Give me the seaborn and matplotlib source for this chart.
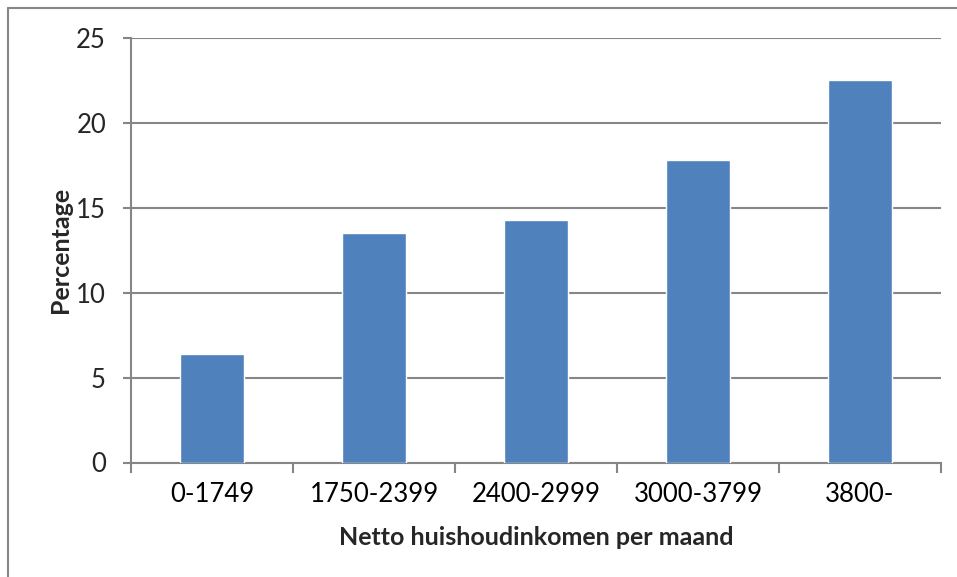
import pandas as pd
import seaborn as sns
import matplotlib.pyplot as plt
from matplotlib.lines import Line2D
from matplotlib.ticker import FixedLocator

# data
categories = ["0-1749", "1750-2399", "2400-2999", "3000-3799", "3800-"]
percentages = [6.4, 13.5, 14.3, 17.8, 22.5]

df = pd.DataFrame({"inkomen": categories, "pct": percentages})

sns.set_style("white")
plt.rcParams["font.family"] = ["Lato", "DejaVu Sans"]

fig = plt.figure(figsize=(9.57, 5.77), dpi=100)
ax = fig.add_axes([131 / 957, 1 - 462.5 / 577, 810 / 957, 424.5 / 577])

sns.barplot(data=df, x="inkomen", y="pct", color="#4F81BD", width=0.4,
            saturation=1, ax=ax, zorder=3)

ax.set_ylim(0, 25)
ax.set_xlim(-0.5, len(categories) - 0.5)
ax.set_yticks(range(0, 26, 5))
ax.yaxis.grid(True, color="#868686", linewidth=1.5, zorder=0)
ax.set_axisbelow(True)

for side in ["top", "right"]:
    ax.spines[side].set_visible(False)
for side in ["left", "bottom"]:
    ax.spines[side].set_color("#868686")
    ax.spines[side].set_linewidth(1.5)

# ticks at category boundaries, labels centred under bars
ax.xaxis.set_minor_locator(FixedLocator([i - 0.5 for i in range(len(categories) + 1)]))
ax.tick_params(axis="x", which="major", length=0, pad=14, labelsize=18.5, colors="black")
ax.tick_params(axis="x", which="minor", length=7, width=1.5, color="#868686", bottom=True)
ax.tick_params(axis="y", which="major", length=6, width=1.5, color="#868686",
               pad=12, labelsize=18.5, left=True)

ax.set_xlabel("Netto huishoudinkomen per maand", fontsize=18, fontweight="bold", labelpad=14)
ax.set_ylabel("Percentage", fontsize=18, fontweight="bold", labelpad=3)

# outer frame of the chart area (cropped at right and bottom)
fig.add_artist(Line2D([8 / 957, 8 / 957], [0, 1 - 8 / 577], color="#868686", linewidth=1.5))
fig.add_artist(Line2D([8 / 957, 1], [1 - 8 / 577, 1 - 8 / 577], color="#868686", linewidth=1.5))

fig.savefig("out.png", dpi=100)
